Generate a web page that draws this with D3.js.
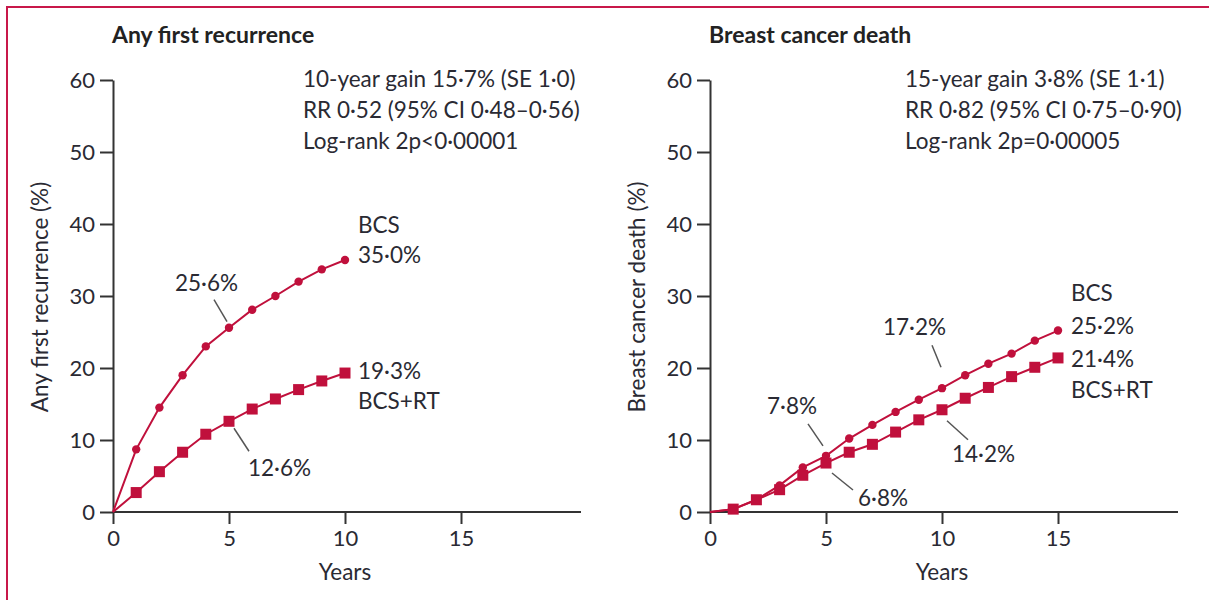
<!DOCTYPE html>
<html lang="en">
<head>
<meta charset="utf-8">
<title>Recurrence and breast cancer death</title>
<script src="https://cdn.jsdelivr.net/npm/d3@7"></script>
<style>
body { margin: 0; background: #fff; }
svg { display: block; font-family: Lato, "Liberation Sans", sans-serif; }
.axis path, .axis line { stroke: #333; stroke-width: 2; }
.axis text { font-size: 22px; fill: #2a2a33; font-family: Lato, "Liberation Sans", sans-serif; }
.lbl { font-size: 22.5px; fill: #2a2a33; }
.title { font-size: 23px; font-weight: bold; fill: #222; }
.series { fill: none; stroke: #c0103c; stroke-width: 2; }
.dot { fill: #c0103c; }
.leader { stroke: #555; stroke-width: 1.5; }
</style>
</head>
<body>
<svg id="chart" width="1209" height="600"></svg>
<script>
// data
var leftYears = [0, 1, 2, 3, 4, 5, 6, 7, 8, 9, 10];
var leftBCS   = [0, 8.7, 14.5, 19.0, 23.0, 25.6, 28.1, 30.0, 32.0, 33.7, 35.0];
var leftBCSRT = [0, 2.7, 5.6, 8.3, 10.8, 12.6, 14.3, 15.7, 17.0, 18.2, 19.3];

var rightYears = [0, 1, 2, 3, 4, 5, 6, 7, 8, 9, 10, 11, 12, 13, 14, 15];
var rightBCS   = [0, 0.4, 1.7, 3.7, 6.2, 7.8, 10.2, 12.1, 13.9, 15.6, 17.2, 19.0, 20.6, 22.0, 23.8, 25.2];
var rightBCSRT = [0, 0.4, 1.7, 3.1, 5.1, 6.8, 8.3, 9.4, 11.1, 12.8, 14.2, 15.8, 17.3, 18.8, 20.1, 21.4];

var xTicks = [0, 5, 10, 15];
var yTicks = [0, 10, 20, 30, 40, 50, 60];

var svg = d3.select("#chart");

// frame (left + top rule)
svg.append("path")
    .attr("d", "M7,600V7H1209")
    .attr("fill", "none")
    .attr("stroke", "#c8184a")
    .attr("stroke-width", 2);

var panels = [
  {
    left: 113, statsX: 303, title: "Any first recurrence", ylab: "Any first recurrence (%)",
    years: leftYears, bcs: leftBCS, rt: leftBCSRT,
    stats: ["10-year gain 15·7% (SE 1·0)", "RR 0·52 (95% CI 0·48–0·56)", "Log-rank 2p<0·00001"],
    endTop: ["BCS", "35·0%"], endBot: ["19·3%", "BCS+RT"],
    endTopDy: [-27, 3], endBotDy: [6, 36],
    notes: [
      { s: "bcs", i: 5, text: "25·6%", l: [-15, -28, -2, -6], t: [-54, -37] },
      { s: "rt", i: 5, text: "12·6%", l: [5, 7, 20, 30], t: [19, 55] }
    ]
  },
  {
    left: 710, statsX: 905, title: "Breast cancer death", ylab: "Breast cancer death (%)",
    years: rightYears, bcs: rightBCS, rt: rightBCSRT,
    stats: ["15-year gain 3·8% (SE 1·1)", "RR 0·82 (95% CI 0·75–0·90)", "Log-rank 2p=0·00005"],
    endTop: ["BCS", "25·2%"], endBot: ["21·4%", "BCS+RT"],
    endTopDy: [-30, 3], endBotDy: [9, 40],
    notes: [
      { s: "bcs", i: 10, text: "17·2%", l: [-10, -43, -1, -21], t: [-59, -53] },
      { s: "bcs", i: 5, text: "7·8%", l: [-18, -32, -3, -10], t: [-59, -42] },
      { s: "rt", i: 5, text: "6·8%", l: [6, 10, 27, 27], t: [32, 43] },
      { s: "rt", i: 10, text: "14·2%", l: [5, 11, 26, 30], t: [10, 52] }
    ]
  }
];

panels.forEach(function(p) {
  var x = d3.scaleLinear().domain([0, 20]).range([p.left, p.left + 464]);
  var y = d3.scaleLinear().domain([0, 60]).range([512, 80]);

  svg.append("text").attr("class", "title")
      .attr("x", p.left - 1).attr("y", 43).text(p.title);

  svg.append("g").attr("class", "axis")
      .attr("transform", "translate(0,512)")
      .call(d3.axisBottom(x).tickValues(xTicks).tickSize(12).tickSizeOuter(0).tickPadding(6))
      .call(function(g) { g.select(".domain").attr("d", "M" + p.left + ",0H" + (p.left + 468)); });

  svg.append("g").attr("class", "axis")
      .attr("transform", "translate(" + p.left + ",0)")
      .call(d3.axisLeft(y).tickValues(yTicks).tickSize(13).tickSizeOuter(0).tickPadding(5));

  svg.selectAll(".axis .domain").attr("fill", "none");

  svg.append("text").attr("class", "lbl")
      .attr("x", x(10)).attr("y", 580).attr("text-anchor", "middle").text("Years");

  svg.append("text").attr("class", "lbl")
      .attr("transform", "translate(" + (p.left - 65) + ",297) rotate(-90)")
      .attr("text-anchor", "middle").text(p.ylab);

  var stats = svg.append("text").attr("class", "lbl")
      .attr("x", p.statsX).attr("y", 87);
  p.stats.forEach(function(s, i) {
    stats.append("tspan").attr("x", p.statsX).attr("y", 87 + i * 31).text(s);
  });

  var line = d3.line()
      .x(function(d, i) { return x(p.years[i]); })
      .y(function(d) { return y(d); });

  svg.append("path").attr("class", "series").attr("d", line(p.rt));
  svg.append("path").attr("class", "series").attr("d", line(p.bcs));

  var idx = p.years.slice(1);
  svg.selectAll(null).data(idx).enter().append("rect")
      .attr("class", "dot")
      .attr("x", function(d) { return x(d) - 5.5; })
      .attr("y", function(d) { return y(p.rt[d]) - 5.5; })
      .attr("width", 11).attr("height", 11);
  svg.selectAll(null).data(idx).enter().append("circle")
      .attr("class", "dot")
      .attr("cx", function(d) { return x(d); })
      .attr("cy", function(d) { return y(p.bcs[d]); })
      .attr("r", 4.2);

  var n = p.years.length - 1;
  var ex = x(p.years[n]) + 13;
  p.endTop.forEach(function(t, i) {
    svg.append("text").attr("class", "lbl")
        .attr("x", ex).attr("y", y(p.bcs[n]) + p.endTopDy[i]).text(t);
  });
  p.endBot.forEach(function(t, i) {
    svg.append("text").attr("class", "lbl")
        .attr("x", ex).attr("y", y(p.rt[n]) + p.endBotDy[i]).text(t);
  });

  p.notes.forEach(function(a) {
    var v = a.s === "bcs" ? p.bcs : p.rt;
    var px = x(p.years[a.i]), py = y(v[a.i]);
    svg.append("line").attr("class", "leader")
        .attr("x1", px + a.l[0]).attr("y1", py + a.l[1])
        .attr("x2", px + a.l[2]).attr("y2", py + a.l[3]);
    svg.append("text").attr("class", "lbl")
        .attr("x", px + a.t[0]).attr("y", py + a.t[1]).text(a.text);
  });
});
</script>
</body>
</html>
